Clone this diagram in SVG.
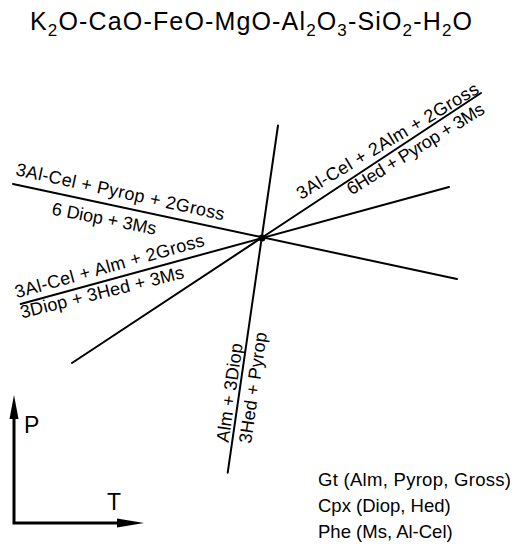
<svg xmlns="http://www.w3.org/2000/svg" width="517" height="547" viewBox="0 0 517 547">
<style>
text{font-family:"Liberation Sans","DejaVu Sans",sans-serif;fill:#000}
.lbl{font-size:18px}
.leg{font-size:18.5px}
.ax{font-size:23px}
.ttl{font-size:25px}
.sub{font-size:17px}
.ln{stroke:#000;stroke-width:2;fill:none;stroke-linecap:round}
.axl{stroke:#000;stroke-width:3;fill:none}
</style>
<rect width="517" height="547" fill="#fff"/>
<g id="title">
<text class="ttl" x="30" y="30" textLength="442" lengthAdjust="spacing">K<tspan class="sub" dy="6">2</tspan><tspan dy="-6">O-CaO-FeO-MgO-Al</tspan><tspan class="sub" dy="6">2</tspan><tspan dy="-6">O</tspan><tspan class="sub" dy="6">3</tspan><tspan dy="-6">-SiO</tspan><tspan class="sub" dy="6">2</tspan><tspan dy="-6">-H</tspan><tspan class="sub" dy="6">2</tspan><tspan dy="-6">O</tspan></text>
</g>
<g id="connectors">
<line class="ln" x1="13" y1="184" x2="457" y2="279"/>
<line class="ln" x1="20.7" y1="304" x2="449" y2="187"/>
<line class="ln" x1="72" y1="363" x2="481" y2="93"/>
<line class="ln" x1="278" y1="125.5" x2="227.7" y2="472.7"/>
</g>
<g id="invariant-point">
<circle cx="262" cy="238" r="3.5" fill="#000"/>
</g>
<g id="reaction-1">
<text class="lbl" transform="translate(15,175) rotate(12.3)" textLength="213" lengthAdjust="spacing">3Al-Cel + Pyrop + 2Gross</text>
<text class="lbl" transform="translate(51,214.5) rotate(11)" textLength="106" lengthAdjust="spacing">6 Diop + 3Ms</text>
</g>
<g id="reaction-2">
<text class="lbl" transform="translate(16.7,298.3) rotate(-15.6)" textLength="196" lengthAdjust="spacing">3Al-Cel + Alm + 2Gross</text>
<text class="lbl" transform="translate(22,318.5) rotate(-14)" textLength="168" lengthAdjust="spacing">3Diop + 3Hed + 3Ms</text>
</g>
<g id="reaction-3">
<text class="lbl" transform="translate(301,200) rotate(-31)" textLength="209" lengthAdjust="spacing">3Al-Cel + 2Alm + 2Gross</text>
<text class="lbl" transform="translate(351.5,195.5) rotate(-31.7)" textLength="158" lengthAdjust="spacing">6Hed + Pyrop + 3Ms</text>
</g>
<g id="reaction-4">
<text class="lbl" transform="translate(228.5,443) rotate(-81.8)" textLength="100" lengthAdjust="spacing">Alm + 3Diop</text>
<text class="lbl" transform="translate(251,444) rotate(-81.8)" textLength="112" lengthAdjust="spacing">3Hed + Pyrop</text>
</g>
<g id="axes">
<polyline class="axl" points="14,418 14,523 118,523"/>
<polygon points="14,395 9.5,419 18.5,419" fill="#000"/>
<polygon points="144,523 117,518.5 117,527.5" fill="#000"/>
<text class="ax" x="24" y="433">P</text>
<text class="ax" x="107" y="510">T</text>
</g>
<g id="legend">
<text class="leg" x="318" y="486" textLength="193" lengthAdjust="spacing">Gt (Alm, Pyrop, Gross)</text>
<text class="leg" x="318" y="512">Cpx (Diop, Hed)</text>
<text class="leg" x="318" y="538">Phe (Ms, Al-Cel)</text>
</g>
</svg>
